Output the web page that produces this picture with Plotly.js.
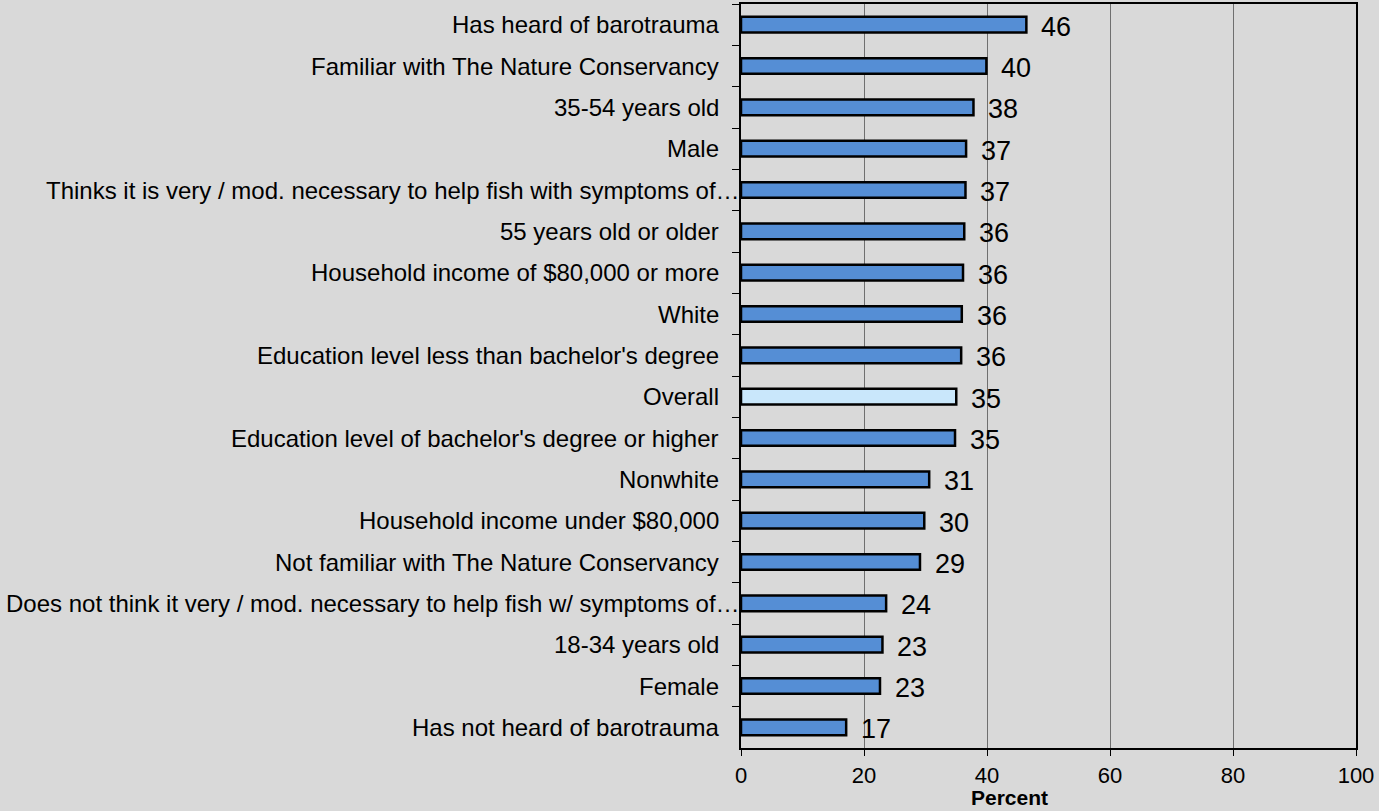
<!DOCTYPE html>
<html>
<head>
<meta charset="utf-8">
<script src="https://cdn.plot.ly/plotly-3.0.1.min.js"></script>
<style>
  html, body { margin: 0; padding: 0; background: #d9d9d9; }
  #chart { width: 1379px; height: 811px; }
</style>
</head>
<body>
<div id="chart"></div>
<script>
// ---- data ----
const categories = [
  "Has heard of barotrauma",
  "Familiar with The Nature Conservancy",
  "35-54 years old",
  "Male",
  "Thinks it is very / mod. necessary to help fish with symptoms of…",
  "55 years old or older",
  "Household income of $80,000 or more",
  "White",
  "Education level less than bachelor's degree",
  "Overall",
  "Education level of bachelor's degree or higher",
  "Nonwhite",
  "Household income under $80,000",
  "Not familiar with The Nature Conservancy",
  "Does not think it very / mod. necessary to help fish w/ symptoms of…",
  "18-34 years old",
  "Female",
  "Has not heard of barotrauma"
];
const values = [46.4, 39.9, 37.8, 36.6, 36.5, 36.3, 36.1, 35.9, 35.8, 35.0, 34.8, 30.6, 29.8, 29.1, 23.6, 23.0, 22.6, 17.1];
const valueLabels = ["46","40","38","37","37","36","36","36","36","35","35","31","30","29","24","23","23","17"];
const highlightCategory = "Overall";
const xTicks = [0, 20, 40, 60, 80, 100];

// ---- styles ----
const barColor = "#558ed5";
const highlightColor = "#c9e7fb";
const fontFam = "Liberation Sans, Arial, sans-serif";

const trace = {
  type: "bar",
  orientation: "h",
  y: categories,
  x: values,
  width: 0.38,
  marker: {
    color: categories.map(c => c === highlightCategory ? highlightColor : barColor),
    line: { color: "#000000", width: 2.5 }
  },
  hoverinfo: "skip"
};

const annotations = [];
values.forEach((v, i) => {
  annotations.push({
    x: v, y: categories[i], xref: "x", yref: "y",
    text: valueLabels[i], showarrow: false,
    xanchor: "left", yanchor: "middle", xshift: 13, yshift: -2,
    font: { family: fontFam, size: 27, color: "#000" }
  });
});
categories.forEach((c, i) => {
  const truncated = c.endsWith("…");
  annotations.push({
    x: 0, y: c, xref: "x", yref: "y",
    text: c, showarrow: false,
    xanchor: "right", yanchor: "middle", xshift: truncated ? 1 : -20, yshift: 0,
    font: { family: fontFam, size: 24, color: "#000" }
  });
});
annotations.push({
  x: 0.437, y: -0.0847, xref: "paper", yref: "paper",
  text: "<b>Percent</b>", showarrow: false,
  xanchor: "center", yanchor: "bottom",
  font: { family: fontFam, size: 21, color: "#000" }
});

const layout = {
  width: 1379, height: 811,
  paper_bgcolor: "#d9d9d9",
  plot_bgcolor: "#d9d9d9",
  margin: { l: 741, r: 23, t: 4, b: 63, pad: 0 },
  showlegend: false,
  bargap: 0.6,
  xaxis: {
    range: [0, 100],
    tickvals: xTicks,
    ticktext: xTicks.map(String),
    ticks: "outside", ticklen: 6, tickcolor: "#000", tickwidth: 1,
    ticklabelstandoff: 1,
    showgrid: true, gridcolor: "#6f6f6f", gridwidth: 1,
    showline: true, linecolor: "#000", linewidth: 2, mirror: true,
    zeroline: false,
    tickfont: { family: fontFam, size: 22, color: "#000" },
    fixedrange: true
  },
  yaxis: {
    type: "category",
    autorange: "reversed",
    showticklabels: false,
    tickson: "boundaries",
    ticks: "outside", ticklen: 7, tickcolor: "#000", tickwidth: 1,
    showgrid: false,
    showline: true, linecolor: "#000", linewidth: 2, mirror: true,
    zeroline: false,
    fixedrange: true
  },
  annotations: annotations,
  font: { family: fontFam, color: "#000" }
};

Plotly.newPlot("chart", [trace], layout, { displayModeBar: false, staticPlot: true });
</script>
</body>
</html>
